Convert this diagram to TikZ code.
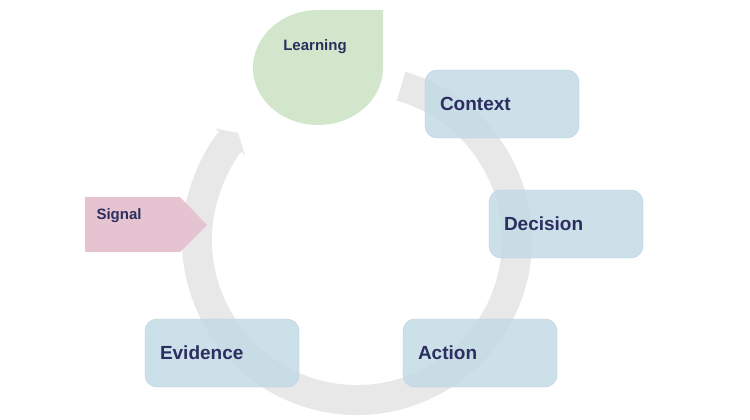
\documentclass[tikz,border=0pt]{standalone}
\usepackage{fontspec}
\setmainfont{Liberation Sans}
\usetikzlibrary{arrows.meta}
\definecolor{ringgrey}{HTML}{E8E8E8}
\definecolor{boxblue}{HTML}{C3DAE6}
\definecolor{boxline}{HTML}{B2CFDF}
\definecolor{leafgreen}{HTML}{D1E6CA}
\definecolor{signalpink}{HTML}{E6C3D1}
\definecolor{navy}{HTML}{2B2E5E}
\begin{document}
\begin{tikzpicture}[x=1pt,y=-1pt,
    step box/.style={draw=boxline,fill=boxblue,fill opacity=0.85,text opacity=1,rounded corners=12pt,
        minimum width=154pt,minimum height=68pt,text width=124pt,align=left,inner sep=0pt,
        font=\bfseries\fontsize{19}{22}\selectfont,text=navy},
    small label/.style={font=\bfseries\fontsize{15}{18}\selectfont,text=navy}]
\useasboundingbox (0,0) rectangle (750,420);

% cycle ring
\draw[ringgrey,line width=30pt,-{Triangle[length=12pt,width=40pt]}]
    (357,240) ++(-74:160) arc[start angle=-74,end angle=222,radius=160];

% learning leaf
\fill[leafgreen] (383,10) -- (383,68) arc[start angle=0,end angle=180,x radius=65,y radius=57]
    arc[start angle=180,end angle=270,x radius=65,y radius=58] -- cycle;
\node[small label] (learning) at (315,47) {Learning};

% signal
\fill[signalpink] (85,197) -- (180,197) -- (207,225) -- (180,252) -- (85,252) -- cycle;
\node[small label,anchor=west] (signal) at (93,216) {Signal};

% steps
\node[step box] (context) at (502,104) {Context};
\node[step box] (decision) at (566,224) {Decision};
\node[step box] (action) at (480,353) {Action};
\node[step box] (evidence) at (222,353) {Evidence};
\end{tikzpicture}
\end{document}
